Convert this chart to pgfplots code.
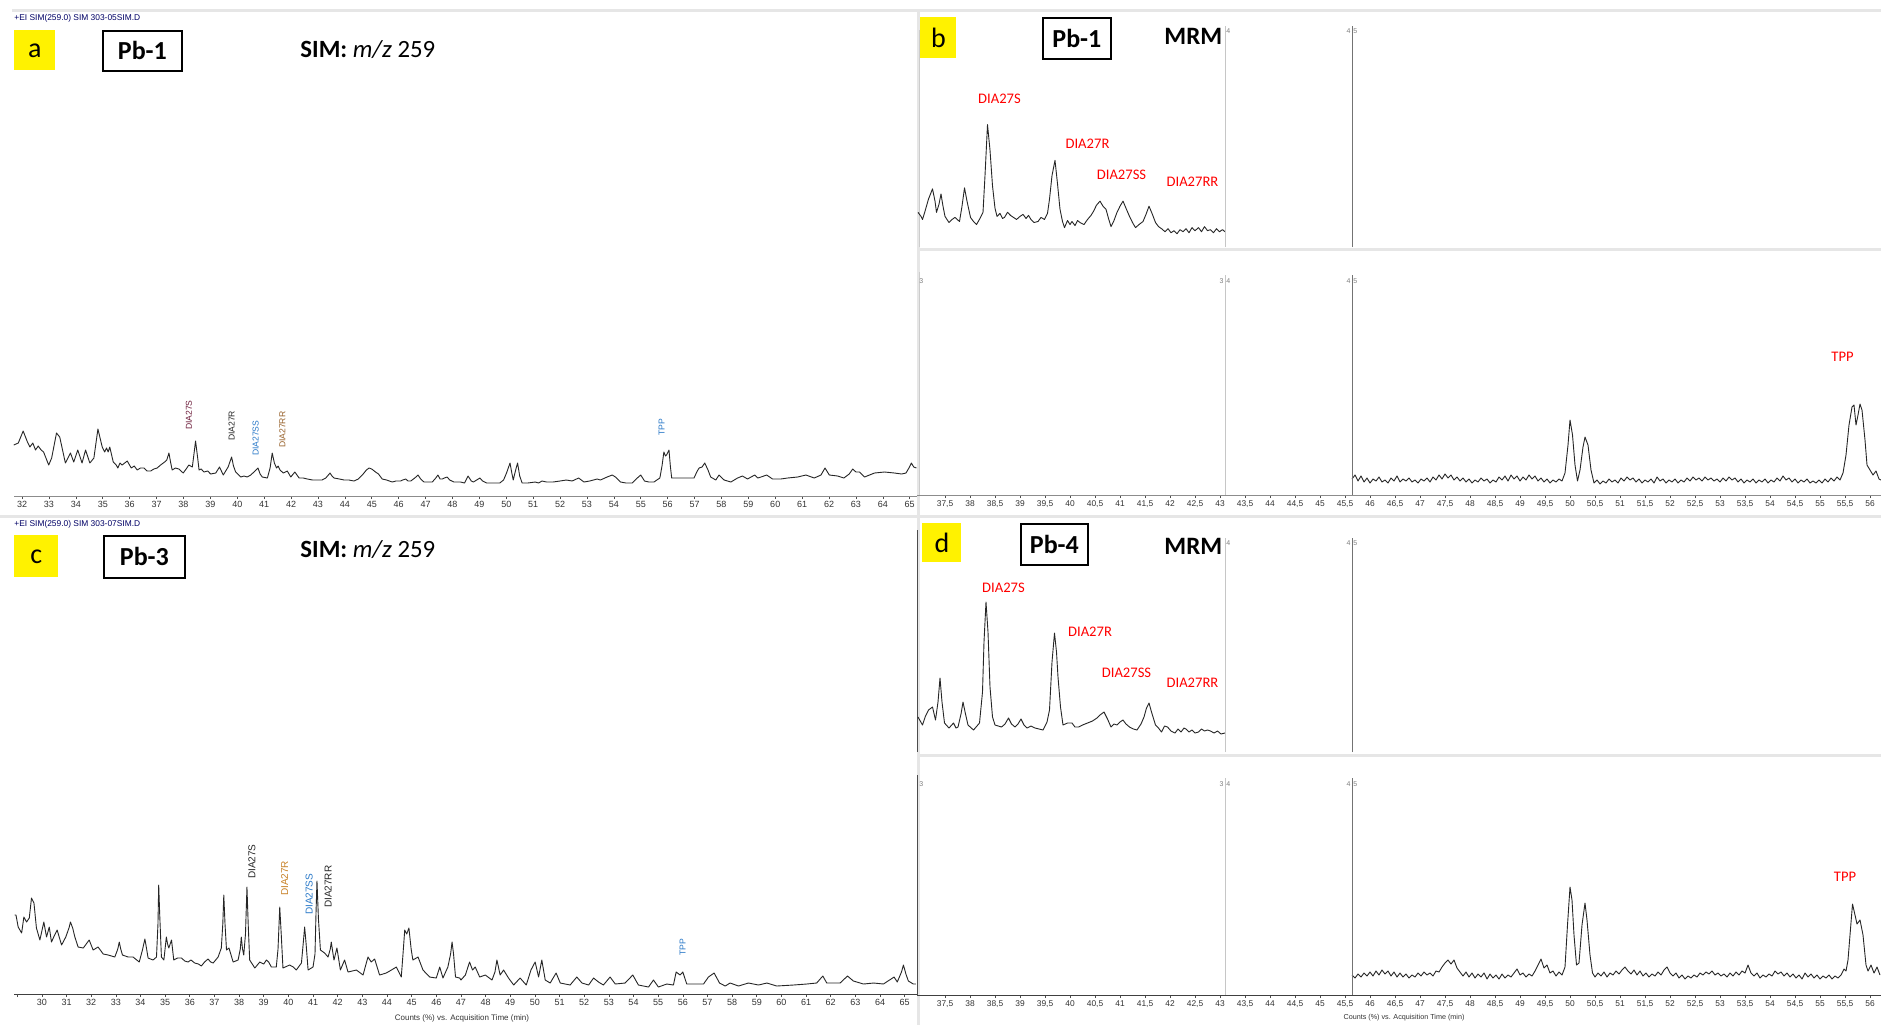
\documentclass[border=0pt]{standalone}
\usepackage{fontspec}
\setmainfont{Carlito}
\newfontfamily\arialf{Liberation Sans}
\usepackage{pgfplots}
\pgfplotsset{compat=1.18}
\definecolor{sep}{RGB}{230,230,230}
\definecolor{labred}{RGB}{255,0,0}
\definecolor{labblue}{RGB}{40,120,200}
\definecolor{labplum}{RGB}{110,30,60}
\definecolor{labbrown}{RGB}{150,95,40}
\definecolor{laborange}{RGB}{200,130,40}
\pgfplotsset{
  chrom/.style={scale only axis, anchor=south west, ymin=0, clip=false,
    axis x line*=bottom, axis y line=none,
    x axis line style={-, black!45, line width=0.4pt},
    tick align=outside, major tick length=1.6pt,
    tick style={black!70, line width=0.3pt},
    ytick=\empty,
    xticklabel style={font=\arialf\fontsize{4.5}{5}\selectfont, text=black!80, inner sep=1pt},
    /pgf/number format/assume math mode=true},
  hid/.style={scale only axis, anchor=south west, ymin=0, clip=false, axis lines=none, xtick=\empty, ytick=\empty},
  trace/.style={black!85, line width=0.45pt, line join=round},
}
\tikzset{
  redlab/.style={font=\fontsize{7.3}{8}\selectfont, text=labred},
  rotlab/.style={rotate=90, anchor=west, font=\arialf\fontsize{4.3}{5}\selectfont},
  seglab/.style={font=\arialf\fontsize{3.5}{4}\selectfont, text=gray, inner sep=0.5pt},
}
\begin{document}
\begin{tikzpicture}
\path[use as bounding box] (0pt,0pt) rectangle (940.5pt,-512.5pt);
\begin{scope}[x=0.5pt,y=-0.5pt]
\fill[white] (0,0) rectangle (1881,1025);
\draw[sep,line width=1.5pt] (12,10) -- (1881,10);
\draw[sep,line width=1.5pt] (918,249) -- (1881,249);
\draw[sep,line width=1.5pt] (0,516) -- (1881,516);
\draw[sep,line width=1.5pt] (918,755) -- (1881,755);
\draw[sep,line width=1.5pt] (918,10) -- (918,1025);
\draw[black!70,line width=0.5pt] (917,530) -- (917,752);
\draw[black!70,line width=0.5pt] (917,775) -- (917,995);
\draw[gray!40,line width=0.4pt] (919,30) -- (919,247);
\draw[gray!40,line width=0.4pt] (919,272) -- (919,495);
\end{scope}

% ---------------- panel a
\begin{axis}[chrom, at={(7pt,-248pt)}, width=451.5pt, height=242pt,
  xmin=31.7, xmax=65.27, ymax=484, xtick={32,...,65}]
\addplot[trace] coordinates {(31.69,51)(31.86,53)(32.04,65)(32.2,54)(32.29,49)(32.4,53)(32.5,46)(32.6,50)(32.71,46)(32.8,44)(32.99,31)(33.1,38)(33.28,63)(33.4,59)(33.61,33)(33.8,43)(33.92,34)(34.07,46)(34.23,33)(34.36,46)(34.52,33)(34.67,38)(34.82,67)(34.98,49)(35.07,44)(35.14,48)(35.2,44)(35.26,49)(35.39,34)(35.5,31)(35.56,28)(35.64,33)(35.72,31)(35.91,35)(36.06,28)(36.17,30)(36.28,26)(36.4,28)(36.53,28)(36.65,25)(36.78,25)(36.9,27)(37.02,28)(37.15,31)(37.3,34)(37.38,36)(37.46,43)(37.52,34)(37.58,26)(37.7,28)(37.83,27)(37.99,23)(38.1,27)(38.2,31)(38.33,29)(38.45,55)(38.52,40)(38.58,26)(38.66,27)(38.76,24)(38.9,25)(39.01,22)(39.2,23)(39.34,29)(39.48,21)(39.66,29)(39.79,39)(39.86,30)(39.94,24)(40.13,19)(40.25,20)(40.37,19)(40.5,21)(40.62,24)(40.77,28)(40.85,22)(40.93,19)(41.12,18)(41.22,28)(41.3,43)(41.38,33)(41.46,28)(41.52,30)(41.59,26)(41.71,23)(41.86,25)(41.99,19)(42.14,24)(42.3,18)(42.45,18)(42.61,17)(42.8,16)(42.98,16)(43.15,16)(43.29,18)(43.45,23)(43.52,20)(43.6,18)(43.8,17)(43.97,16)(44.15,16)(44.34,15)(44.5,17)(44.65,21)(44.8,26)(44.9,28)(45.0,27)(45.14,24)(45.25,22)(45.39,17)(45.55,16)(45.76,14)(45.9,15)(46.07,15)(46.15,16)(46.26,17)(46.35,15)(46.45,15)(46.6,18)(46.72,21)(46.82,17)(46.94,14)(47.1,14)(47.25,14)(47.38,18)(47.46,21)(47.54,17)(47.62,17)(47.7,18)(47.8,19)(47.9,16)(48.05,14)(48.2,14)(48.3,14)(48.45,13)(48.58,20)(48.7,15)(48.78,14)(48.9,16)(49.02,18)(49.12,15)(49.27,13)(49.5,13)(49.76,13)(49.9,16)(50.01,23)(50.14,33)(50.2,24)(50.26,16)(50.34,25)(50.42,33)(50.5,20)(50.59,13)(50.8,13)(51.08,14)(51.2,13)(51.33,15)(51.5,14)(51.74,14)(52.0,15)(52.23,16)(52.45,15)(52.69,18)(52.89,14)(53.1,15)(53.38,17)(53.5,16)(53.75,19)(53.94,21)(54.06,19)(54.25,14)(54.45,13)(54.68,13)(54.87,18)(55.0,21)(55.14,15)(55.3,14)(55.49,14)(55.71,18)(55.79,30)(55.86,44)(55.92,40)(55.96,41)(56.05,46)(56.1,30)(56.15,18)(56.48,18)(56.98,18)(57.1,25)(57.17,28)(57.28,29)(57.38,33)(57.5,26)(57.6,19)(57.79,16)(57.91,21)(58.1,16)(58.35,14)(58.6,18)(58.78,20)(58.97,17)(59.1,19)(59.24,21)(59.35,18)(59.47,19)(59.68,21)(59.9,17)(60.2,17)(60.46,18)(60.83,19)(61.14,21)(61.45,18)(61.7,21)(61.85,28)(62.01,21)(62.32,20)(62.55,18)(62.75,22)(62.88,27)(63.0,24)(63.13,24)(63.32,19)(63.69,23)(64.06,24)(64.43,23)(64.7,22)(64.86,23)(64.97,28)(65.06,33)(65.15,29)(65.25,28)};
\node[rotlab, text=labplum] at (axis cs:38.2,59) {DIA27S};
\node[rotlab, text=black!85] at (axis cs:39.79,48) {DIA27R};
\node[rotlab, text=labblue] at (axis cs:40.68,33) {DIA27SS};
\node[rotlab, text=labbrown] at (axis cs:41.68,41) {DIA27RR};
\node[rotlab, text=labblue] at (axis cs:55.78,53) {TPP};
\end{axis}

% ---------------- panel c
\begin{axis}[chrom, at={(7pt,-497pt)}, width=451.5pt, height=230pt,
  xmin=28.87, xmax=65.5, ymax=460, xtick={30,...,65}, extra x ticks={29}, extra x tick labels={},
  x axis line style={-, black!75, line width=0.5pt}]
\addplot[trace] coordinates {(28.9,79)(28.95,79)(29.04,67)(29.18,61)(29.27,77)(29.38,72)(29.49,76)(29.58,96)(29.64,93)(29.68,91)(29.78,66)(29.92,54)(30.08,72)(30.19,57)(30.3,67)(30.39,52)(30.5,58)(30.62,64)(30.8,49)(30.97,57)(31.1,66)(31.16,72)(31.25,66)(31.34,57)(31.47,47)(31.68,46)(31.8,50)(31.92,54)(32.08,44)(32.28,47)(32.49,40)(32.69,39)(32.96,37)(33.08,45)(33.14,52)(33.2,45)(33.27,39)(33.5,37)(33.7,37)(33.95,32)(34.08,44)(34.18,55)(34.25,45)(34.31,36)(34.51,34)(34.65,37)(34.71,70)(34.74,109)(34.78,80)(34.85,37)(34.95,34)(35.05,57)(35.1,50)(35.15,46)(35.26,54)(35.35,34)(35.5,36)(35.66,36)(35.8,33)(35.93,32)(36.05,34)(36.2,31)(36.35,30)(36.47,28)(36.6,32)(36.74,35)(36.85,32)(36.95,31)(37.05,34)(37.15,37)(37.28,46)(37.34,70)(37.38,99)(37.43,70)(37.49,44)(37.59,46)(37.76,32)(37.96,34)(38.05,45)(38.09,57)(38.14,45)(38.19,39)(38.26,60)(38.32,107)(38.37,70)(38.43,34)(38.64,26)(38.84,32)(39.0,30)(39.11,34)(39.2,32)(39.31,27)(39.51,27)(39.58,45)(39.65,87)(39.71,60)(39.78,26)(40.05,29)(40.2,27)(40.32,24)(40.53,31)(40.6,50)(40.66,67)(40.72,50)(40.8,24)(41.0,27)(41.08,40)(41.12,80)(41.16,113)(41.22,75)(41.3,44)(41.47,41)(41.61,37)(41.7,45)(41.74,52)(41.8,42)(41.85,34)(41.97,46)(42.11,24)(42.28,34)(42.42,22)(42.76,24)(43.03,19)(43.15,30)(43.23,37)(43.36,32)(43.5,35)(43.7,19)(43.97,21)(44.18,24)(44.38,27)(44.58,17)(44.65,40)(44.72,64)(44.8,60)(44.89,66)(44.98,45)(45.05,34)(45.26,37)(45.46,24)(45.73,17)(46.0,16)(46.14,27)(46.27,16)(46.47,27)(46.58,40)(46.64,52)(46.7,40)(46.78,17)(46.95,16)(47.0,14)(47.18,19)(47.35,32)(47.47,24)(47.58,27)(47.76,17)(47.99,19)(48.26,14)(48.38,22)(48.46,34)(48.59,19)(48.73,24)(48.93,16)(49.14,9)(49.4,16)(49.65,9)(49.84,24)(50.01,32)(50.15,17)(50.28,34)(50.42,14)(50.62,11)(50.86,21)(51.03,11)(51.43,9)(51.7,17)(51.91,11)(52.18,9)(52.38,16)(52.58,12)(52.78,9)(53.05,17)(53.26,10)(53.66,11)(53.97,19)(54.2,9)(54.61,7)(54.81,14)(55.01,7)(55.35,10)(55.62,9)(55.73,22)(55.89,19)(56.0,22)(56.16,10)(56.84,10)(57.04,17)(57.27,21)(57.49,11)(57.72,8)(57.92,11)(58.26,8)(58.66,11)(59.07,9)(59.41,11)(59.81,8)(60.49,9)(61.03,10)(61.43,11)(61.68,18)(61.84,11)(62.38,11)(62.68,18)(62.92,13)(63.33,10)(63.74,11)(64.14,10)(64.57,17)(64.7,12)(64.87,22)(64.95,29)(65.05,20)(65.15,13)(65.35,10)(65.45,10)};
\node[rotlab, font=\arialf\fontsize{5}{6}\selectfont, text=black!85] at (axis cs:38.52,108) {DIA27S};
\node[rotlab, font=\arialf\fontsize{5}{6}\selectfont, text=laborange] at (axis cs:39.85,91) {DIA27R};
\node[rotlab, font=\arialf\fontsize{5}{6}\selectfont, text=labblue] at (axis cs:40.84,72) {DIA27SS};
\node[rotlab, font=\arialf\fontsize{5}{6}\selectfont, text=black!85] at (axis cs:41.61,79) {DIA27RR};
\node[rotlab, font=\arialf\fontsize{4.3}{5}\selectfont, text=labblue] at (axis cs:55.99,31) {TPP};
\end{axis}

% ---------------- panel b, top row
\begin{axis}[hid, at={(458.5pt,-123.5pt)}, width=482pt, height=117.5pt,
  xmin=36.94, xmax=56.22, ymax=235]
\addplot[trace] coordinates {(36.96,34)(37.02,30)(37.05,27)(37.1,35)(37.17,47)(37.25,57)(37.3,45)(37.33,34)(37.38,42)(37.42,52)(37.46,40)(37.5,30)(37.58,24)(37.64,27)(37.7,29)(37.79,25)(37.84,40)(37.89,58)(37.94,45)(38.01,29)(38.07,25)(38.13,22)(38.2,28)(38.26,34)(38.3,70)(38.35,120)(38.4,95)(38.45,60)(38.5,38)(38.54,30)(38.6,33)(38.65,28)(38.69,29)(38.75,34)(38.81,31)(38.87,29)(38.93,27)(39.0,30)(39.06,32)(39.12,28)(39.17,31)(39.22,27)(39.28,24)(39.36,25)(39.42,29)(39.49,27)(39.55,33)(39.59,47)(39.64,70)(39.7,85)(39.75,62)(39.8,37)(39.85,25)(39.89,19)(39.95,26)(40.0,22)(40.04,25)(40.1,21)(40.15,26)(40.2,24)(40.28,22)(40.35,27)(40.42,31)(40.47,35)(40.53,41)(40.6,45)(40.66,40)(40.72,37)(40.77,28)(40.82,20)(40.88,26)(40.94,34)(41.0,40)(41.06,45)(41.12,38)(41.19,30)(41.25,24)(41.31,19)(41.38,22)(41.46,25)(41.52,32)(41.58,40)(41.64,33)(41.71,24)(41.77,20)(41.83,18)(41.9,15)(41.96,18)(42.02,14)(42.08,16)(42.14,13)(42.2,17)(42.26,15)(42.32,18)(42.38,14)(42.44,19)(42.5,16)(42.57,19)(42.63,15)(42.69,20)(42.75,16)(42.81,17)(42.87,14)(42.93,18)(42.99,15)(43.05,17)(43.1,15)};
\addplot[gray!45, line width=0.5pt] coordinates {(43.1,0)(43.1,217)};
\addplot[black!55, line width=0.5pt] coordinates {(45.64,0)(45.64,217)};
\node[seglab, anchor=west] at (axis cs:43.1,212) {4};
\node[seglab, anchor=east] at (axis cs:45.64,212) {4};
\node[seglab, anchor=west] at (axis cs:45.64,212) {5};
\node[redlab] at (axis cs:38.59,145) {DIA27S};
\node[redlab] at (axis cs:40.35,101) {DIA27R};
\node[redlab] at (axis cs:41.03,71) {DIA27SS};
\node[redlab] at (axis cs:42.45,64) {DIA27RR};
\end{axis}

% ---------------- panel b, bottom row
\begin{axis}[chrom, at={(458.5pt,-247.5pt)}, width=482pt, height=120pt,
  xmin=36.94, xmax=56.22, ymax=240, xtick={37.5,38,...,56},
  xticklabel style={font=\arialf\fontsize{4.2}{5}\selectfont, /pgf/number format/.cd, fixed, precision=1, use comma}]
\addplot[trace] coordinates {(45.64,16)(45.7,20)(45.76,14)(45.82,19)(45.88,13)(45.94,17)(46.0,12)(46.06,16)(46.12,14)(46.18,18)(46.24,13)(46.3,15)(46.36,12)(46.42,17)(46.48,14)(46.54,19)(46.6,13)(46.66,16)(46.72,14)(46.78,17)(46.84,13)(46.9,15)(46.96,12)(47.02,16)(47.08,14)(47.14,17)(47.2,13)(47.26,18)(47.32,15)(47.38,20)(47.44,16)(47.5,21)(47.56,17)(47.62,20)(47.68,15)(47.74,18)(47.8,14)(47.86,17)(47.92,13)(47.98,16)(48.04,12)(48.1,15)(48.16,13)(48.22,17)(48.28,14)(48.34,16)(48.4,12)(48.46,15)(48.52,13)(48.58,18)(48.64,15)(48.7,19)(48.76,14)(48.82,20)(48.88,16)(48.94,19)(49.0,14)(49.06,18)(49.12,15)(49.18,20)(49.24,16)(49.3,19)(49.36,14)(49.42,17)(49.48,13)(49.54,16)(49.6,12)(49.66,15)(49.72,13)(49.78,16)(49.84,14)(49.9,22)(49.96,50)(50.0,75)(50.05,60)(50.1,30)(50.15,14)(50.2,25)(50.26,48)(50.3,58)(50.36,50)(50.42,25)(50.48,12)(50.54,15)(50.6,11)(50.66,14)(50.72,12)(50.78,16)(50.84,13)(50.9,15)(50.96,12)(51.02,17)(51.08,14)(51.14,18)(51.2,15)(51.26,17)(51.32,13)(51.38,16)(51.44,12)(51.5,15)(51.56,13)(51.62,16)(51.68,12)(51.74,18)(51.8,14)(51.86,16)(51.92,12)(51.98,15)(52.04,13)(52.1,16)(52.16,12)(52.22,15)(52.28,13)(52.34,17)(52.4,14)(52.46,18)(52.52,15)(52.58,17)(52.64,14)(52.7,18)(52.76,15)(52.82,17)(52.88,14)(52.94,16)(53.0,13)(53.06,17)(53.12,14)(53.18,18)(53.24,15)(53.3,17)(53.36,13)(53.42,16)(53.48,12)(53.54,15)(53.6,13)(53.66,16)(53.72,12)(53.78,15)(53.84,13)(53.9,16)(53.96,12)(54.02,15)(54.08,13)(54.14,17)(54.2,14)(54.26,19)(54.32,15)(54.38,17)(54.44,13)(54.5,16)(54.56,12)(54.62,15)(54.68,13)(54.74,16)(54.8,12)(54.86,14)(54.92,12)(54.98,15)(55.04,12)(55.1,16)(55.16,13)(55.22,17)(55.28,14)(55.34,18)(55.4,15)(55.46,22)(55.52,40)(55.58,70)(55.64,88)(55.68,90)(55.72,70)(55.76,80)(55.8,91)(55.84,85)(55.9,55)(55.94,30)(56.0,25)(56.06,20)(56.12,24)(56.18,16)(56.22,15)};
\addplot[gray!45, line width=0.5pt] coordinates {(43.1,0)(43.1,220)};
\addplot[black!55, line width=0.5pt] coordinates {(45.64,0)(45.64,220)};
\node[seglab, anchor=west] at (axis cs:36.96,214) {3};
\node[seglab, anchor=east] at (axis cs:43.1,214) {3};
\node[seglab, anchor=west] at (axis cs:43.1,214) {4};
\node[seglab, anchor=east] at (axis cs:45.64,214) {4};
\node[seglab, anchor=west] at (axis cs:45.64,214) {5};
\node[redlab] at (axis cs:55.45,138) {TPP};
\end{axis}

% ---------------- panel d, top row
\begin{axis}[hid, at={(458.5pt,-376pt)}, width=482pt, height=118pt,
  xmin=36.94, xmax=56.22, ymax=236]
\addplot[trace] coordinates {(36.96,35)(37.05,27)(37.11,36)(37.17,42)(37.25,45)(37.31,32)(37.36,50)(37.4,74)(37.44,50)(37.49,29)(37.58,24)(37.67,29)(37.72,24)(37.76,25)(37.82,38)(37.86,50)(37.91,38)(37.96,27)(38.07,22)(38.19,29)(38.25,60)(38.28,110)(38.32,150)(38.36,120)(38.4,65)(38.45,35)(38.5,27)(38.63,25)(38.7,28)(38.77,34)(38.83,28)(38.9,25)(38.96,28)(39.02,33)(39.08,27)(39.14,24)(39.22,26)(39.3,24)(39.38,23)(39.46,22)(39.54,30)(39.59,42)(39.64,90)(39.69,119)(39.73,100)(39.76,75)(39.81,45)(39.86,27)(39.95,29)(40.04,29)(40.1,25)(40.17,25)(40.25,27)(40.35,29)(40.45,31)(40.54,34)(40.6,37)(40.68,40)(40.75,33)(40.82,25)(40.88,28)(40.94,27)(41.0,30)(41.06,32)(41.12,28)(41.19,25)(41.27,23)(41.34,22)(41.42,28)(41.48,35)(41.53,44)(41.58,49)(41.63,40)(41.71,27)(41.77,24)(41.83,20)(41.89,26)(41.95,25)(42.02,21)(42.1,19)(42.16,23)(42.22,20)(42.28,24)(42.32,23)(42.38,20)(42.44,22)(42.5,19)(42.57,20)(42.63,23)(42.69,21)(42.75,22)(42.81,21)(42.88,19)(42.95,21)(43.02,18)(43.1,19)};
\addplot[gray!45, line width=0.5pt] coordinates {(43.1,0)(43.1,214)};
\addplot[black!55, line width=0.5pt] coordinates {(45.64,0)(45.64,214)};
\node[seglab, anchor=west] at (axis cs:43.1,209) {4};
\node[seglab, anchor=east] at (axis cs:45.64,209) {4};
\node[seglab, anchor=west] at (axis cs:45.64,209) {5};
\node[redlab] at (axis cs:38.67,164) {DIA27S};
\node[redlab] at (axis cs:40.4,120) {DIA27R};
\node[redlab] at (axis cs:41.13,79) {DIA27SS};
\node[redlab] at (axis cs:42.45,69) {DIA27RR};
\end{axis}

% ---------------- panel d, bottom row
\begin{axis}[chrom, at={(458.5pt,-497.5pt)}, width=482pt, height=119pt,
  xmin=36.94, xmax=56.22, ymax=238, xtick={37.5,38,...,56},
  x axis line style={-, black!75, line width=0.5pt},
  xticklabel style={font=\arialf\fontsize{4.2}{5}\selectfont, /pgf/number format/.cd, fixed, precision=1, use comma}]
\addplot[trace] coordinates {(45.64,20)(45.7,17)(45.76,21)(45.82,18)(45.88,22)(45.94,19)(46.0,23)(46.06,19)(46.12,24)(46.18,20)(46.24,25)(46.3,21)(46.36,24)(46.42,19)(46.48,23)(46.54,18)(46.6,22)(46.66,18)(46.72,21)(46.78,17)(46.84,20)(46.9,18)(46.96,22)(47.02,19)(47.08,23)(47.14,20)(47.2,22)(47.26,19)(47.32,24)(47.38,23)(47.44,28)(47.5,32)(47.56,35)(47.62,31)(47.68,35)(47.74,27)(47.8,23)(47.86,19)(47.92,23)(47.98,18)(48.04,22)(48.1,17)(48.16,21)(48.22,18)(48.28,22)(48.34,16)(48.4,21)(48.46,17)(48.52,20)(48.58,16)(48.64,21)(48.7,17)(48.76,20)(48.82,18)(48.88,22)(48.94,26)(49.0,20)(49.06,22)(49.12,18)(49.18,21)(49.24,19)(49.3,24)(49.36,30)(49.42,36)(49.48,27)(49.54,30)(49.6,22)(49.66,24)(49.72,19)(49.78,23)(49.84,20)(49.9,28)(49.95,70)(50.0,108)(50.04,95)(50.08,60)(50.13,30)(50.18,32)(50.24,70)(50.3,92)(50.34,75)(50.4,40)(50.45,22)(50.5,18)(50.56,22)(50.62,19)(50.68,23)(50.74,18)(50.8,22)(50.86,20)(50.92,24)(50.98,21)(51.04,25)(51.1,28)(51.16,24)(51.22,21)(51.28,25)(51.34,20)(51.4,24)(51.46,19)(51.52,22)(51.58,18)(51.64,21)(51.7,19)(51.76,23)(51.82,20)(51.88,25)(51.94,28)(52.0,22)(52.06,19)(52.12,22)(52.18,17)(52.24,20)(52.3,16)(52.36,19)(52.42,17)(52.48,20)(52.54,18)(52.6,22)(52.66,20)(52.72,23)(52.78,21)(52.84,24)(52.9,20)(52.96,22)(53.02,19)(53.08,21)(53.14,18)(53.2,22)(53.26,19)(53.32,23)(53.38,20)(53.44,24)(53.5,22)(53.56,30)(53.62,22)(53.68,19)(53.74,22)(53.8,17)(53.86,20)(53.92,18)(53.98,21)(54.04,19)(54.1,24)(54.16,21)(54.22,23)(54.28,19)(54.34,22)(54.4,18)(54.46,21)(54.52,17)(54.58,20)(54.64,16)(54.7,22)(54.76,18)(54.82,21)(54.88,17)(54.94,20)(55.0,16)(55.06,19)(55.12,17)(55.18,20)(55.24,16)(55.3,19)(55.36,17)(55.42,20)(55.48,26)(55.52,24)(55.56,35)(55.6,60)(55.65,91)(55.7,80)(55.74,71)(55.8,75)(55.86,60)(55.92,30)(55.96,24)(56.02,30)(56.08,22)(56.14,28)(56.2,20)};
\addplot[gray!45, line width=0.5pt] coordinates {(43.1,0)(43.1,217)};
\addplot[black!55, line width=0.5pt] coordinates {(45.64,0)(45.64,217)};
\node[seglab, anchor=west] at (axis cs:36.96,211) {3};
\node[seglab, anchor=east] at (axis cs:43.1,211) {3};
\node[seglab, anchor=west] at (axis cs:43.1,211) {4};
\node[seglab, anchor=east] at (axis cs:45.64,211) {4};
\node[seglab, anchor=west] at (axis cs:45.64,211) {5};
\node[redlab] at (axis cs:55.5,118) {TPP};
\end{axis}

% ---------------- annotations
\begin{scope}[x=0.5pt,y=-0.5pt]
\node[anchor=west, inner sep=0, font=\arialf\fontsize{4.2}{5}\selectfont, text=blue!40!black] at (14,18) {+EI SIM(259.0) SIM 303-05SIM.D};
\node[anchor=west, inner sep=0, font=\arialf\fontsize{4.2}{5}\selectfont, text=blue!40!black] at (14,524) {+EI SIM(259.0) SIM 303-07SIM.D};
\node[fill=yellow, anchor=north west, inner sep=0, minimum width=20.5pt, minimum height=20pt, font=\fontsize{14}{14}\selectfont] at (14,30) {a};
\node[fill=yellow, anchor=north west, inner sep=0, minimum width=18pt, minimum height=20.5pt, font=\fontsize{14}{14}\selectfont] at (920,17) {b};
\node[fill=yellow, anchor=north west, inner sep=0, minimum width=22pt, minimum height=21pt, font=\fontsize{14}{14}\selectfont] at (14,535) {c};
\node[fill=yellow, anchor=north west, inner sep=0, minimum width=19.5pt, minimum height=19.5pt, font=\fontsize{14}{14}\selectfont] at (922,523) {d};
\node[draw, line width=0.9pt, anchor=north west, inner sep=0, minimum width=39.5pt, minimum height=20pt, font=\bfseries\fontsize{13}{13}\selectfont] at (102,30) {Pb-1};
\node[draw, line width=0.9pt, anchor=north west, inner sep=0, minimum width=34pt, minimum height=20.5pt, font=\bfseries\fontsize{13}{13}\selectfont] at (1042,17) {Pb-1};
\node[draw, line width=0.9pt, anchor=north west, inner sep=0, minimum width=40.5pt, minimum height=21pt, font=\bfseries\fontsize{13}{13}\selectfont] at (103,535) {Pb-3};
\node[draw, line width=0.9pt, anchor=north west, inner sep=0, minimum width=33.5pt, minimum height=20.5pt, font=\bfseries\fontsize{13}{13}\selectfont] at (1020,523) {Pb-4};
\node[anchor=west, inner sep=0, font=\fontsize{12.4}{13}\selectfont] at (300,50) {\textbf{SIM:} \textit{m/z} 259};
\node[anchor=west, inner sep=0, font=\fontsize{12.4}{13}\selectfont] at (300,550) {\textbf{SIM:} \textit{m/z} 259};
\node[anchor=west, inner sep=0, font=\bfseries\fontsize{12.5}{13}\selectfont] at (1164,36) {MRM};
\node[anchor=west, inner sep=0, font=\bfseries\fontsize{12.5}{13}\selectfont] at (1164,546) {MRM};
\node[inner sep=0, font=\arialf\fontsize{4}{5}\selectfont, text=black!80] at (462,1018) {Counts (\%) vs. Acquisition Time (min)};
\node[inner sep=0, font=\arialf\fontsize{3.6}{4}\selectfont, text=black!80] at (1404,1018) {Counts (\%) vs. Acquisition Time (min)};
\end{scope}
\end{tikzpicture}
\end{document}
